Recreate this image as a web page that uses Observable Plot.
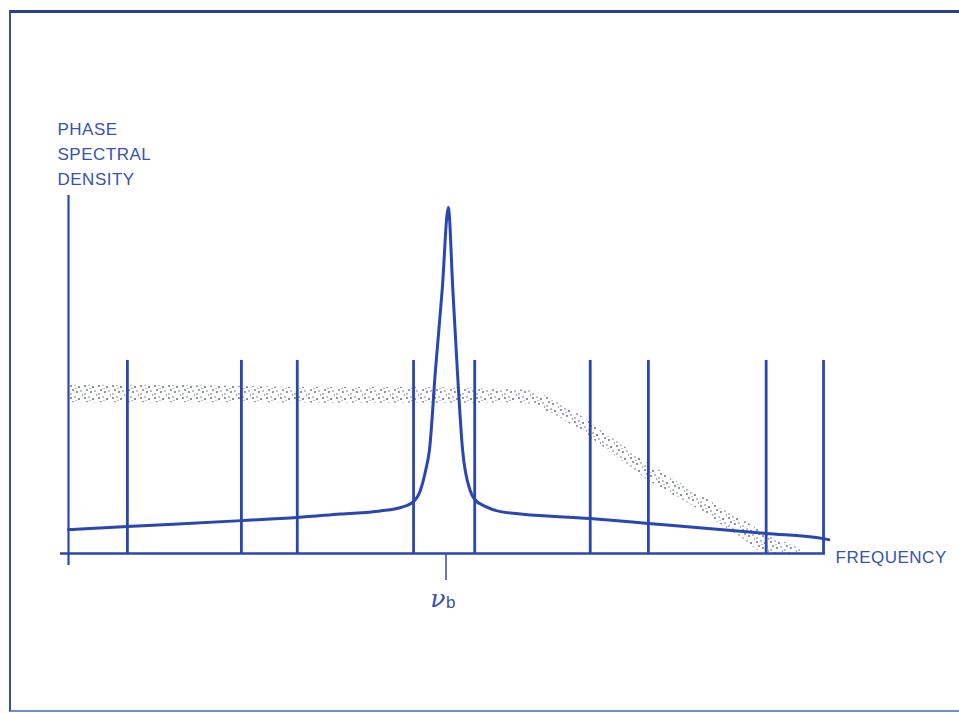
<!DOCTYPE html>
<html><head><meta charset="utf-8">
<script src="https://cdn.jsdelivr.net/npm/d3@7"></script>
<script src="https://cdn.jsdelivr.net/npm/@observablehq/plot@0.6"></script>
<style>
body{margin:0;background:#fff;}
#wrap{position:relative;width:959px;height:713px;overflow:hidden;background:#fff;}
#border{position:absolute;left:9px;top:10px;width:980px;height:697px;border-top:3px solid #2b3f90;border-left:2px solid #3450a8;border-bottom:2px solid #6a8ed8;}
#chart{position:absolute;left:0;top:0;}
#chart text{letter-spacing:0.5px;}
</style></head><body>
<div id="wrap"><div id="border"></div><div id="chart"></div></div>
<script>
// Resonance curve (phase spectral density vs frequency), arbitrary units
const curveFreq    = [0, 7.8, 22.9, 30.3, 36.0, 41.3, 44.0, 45.7, 46.6, 47.3, 47.8, 48.6, 49.5, 50.3, 50.9, 51.5, 52.2, 53.2, 53.8, 55.2, 57.2, 69.1, 76.8, 92.4, 100, 100.7];
const curveDensity = [6.9, 7.8, 9.5, 10.4, 11.4, 12.3, 13.3, 15.0, 18.2, 24.0, 29.8, 52.9, 76.4, 100, 76.4, 52.9, 29.8, 18.2, 15.6, 13.6, 12.1, 10.1, 8.7, 5.8, 4.3, 4.0];

// Stippled band (noise spectrum)
const bandFreq  = [0, 7.8, 22.9, 30.7, 43.9, 54.6, 58.5, 61.2, 62.5, 65.2, 69.1, 76.8, 83.7, 89.0, 92.4, 97.0];
const bandUpper = [48.6, 48.6, 48.3, 48.0, 48.0, 47.7, 47.4, 47.1, 46.2, 43.4, 37.9, 26.0, 16.8, 10.1, 5.8, 1.4];
const bandLower = [43.6, 43.6, 43.6, 43.4, 43.4, 43.4, 43.6, 43.1, 41.9, 39.0, 33.5, 21.1, 12.4, 4.6, 0, 0];

// Vertical lines (sampling frequencies) and their height
const lineFreq = [7.8, 22.9, 30.3, 45.7, 53.8, 69.1, 76.8, 92.4, 100];
const lineTop = 55.8;

// Labels
const yLabel = ["PHASE", "SPECTRAL", "DENSITY"];
const xLabel = "FREQUENCY";
const nuB = 50.0;
const nuSymbol = "ν";
const nuSub = "b";
const tickDepth = -7.8;

const curve = curveFreq.map((f, i) => ({f, d: curveDensity[i]}));
const band = bandFreq.map((f, i) => ({f, lo: bandLower[i], hi: bandUpper[i]}));

const blue = "#2a46b2";
const textBlue = "#3653b0";
const sans = "'Liberation Sans', Arial, sans-serif";

const svg = Plot.plot({
  width: 959, height: 713,
  marginLeft: 60, marginRight: 134, marginTop: 195, marginBottom: 148,
  x: {domain: [-1.06, 100.26], axis: null},
  y: {domain: [-3.47, 103.47], axis: null},
  style: {background: "transparent", fontFamily: sans},
  marks: [
    Plot.areaY(band, {x: "f", y1: "lo", y2: "hi", fill: "url(#stipple)", curve: "monotone-x"}),
    Plot.ruleX(lineFreq, {x: d => d, y1: 0, y2: lineTop, stroke: blue, strokeWidth: 2.8}),
    Plot.ruleY([0], {stroke: blue, strokeWidth: 2.5}),
    Plot.ruleX([0], {stroke: blue, strokeWidth: 2.2}),
    Plot.ruleX([nuB], {x: d => d, y1: 0, y2: tickDepth, stroke: "#3a4a8a", strokeWidth: 1.5}),
    Plot.line(curve, {x: "f", y: "d", stroke: blue, strokeWidth: 3, curve: "monotone-x"}),
    Plot.text([yLabel.join("\n")], {text: d => d, frameAnchor: "top-left", textAnchor: "start", lineAnchor: "bottom", dx: -3, dy: -11, fontSize: 17, lineHeight: 1.47, fill: textBlue}),
    Plot.text([xLabel], {text: d => d, frameAnchor: "bottom-right", textAnchor: "start", lineAnchor: "middle", dx: 10, dy: -8, fontSize: 17, fill: textBlue}),
    Plot.text([nuB], {x: d => d, text: () => nuSymbol, frameAnchor: "bottom", textAnchor: "end", lineAnchor: "middle", dx: 0, dy: 33, fontSize: 25, fontStyle: "italic", fontFamily: "'DejaVu Serif', serif", fill: textBlue}),
    Plot.text([nuB], {x: d => d, text: () => nuSub, frameAnchor: "bottom", textAnchor: "start", lineAnchor: "middle", dx: 0, dy: 37, fontSize: 17, fill: textBlue})
  ]
});

const defs = d3.select(svg).insert("defs", ":first-child");
const pat = defs.append("pattern").attr("id", "stipple").attr("patternUnits", "userSpaceOnUse").attr("width", 14).attr("height", 12);
[[1,2,1.0],[5,1,0.8],[9,3,1.1],[3,6,0.9],[7,8,1.0],[11,7,0.8],[12.5,11,0.7],[6,4.5,0.6],[1,10,0.8]].forEach(([cx,cy,r]) =>
  pat.append("circle").attr("cx", cx).attr("cy", cy).attr("r", r).attr("fill", "#4a4f66").attr("fill-opacity", 0.8));

document.getElementById("chart").appendChild(svg);
</script>
</body></html>
